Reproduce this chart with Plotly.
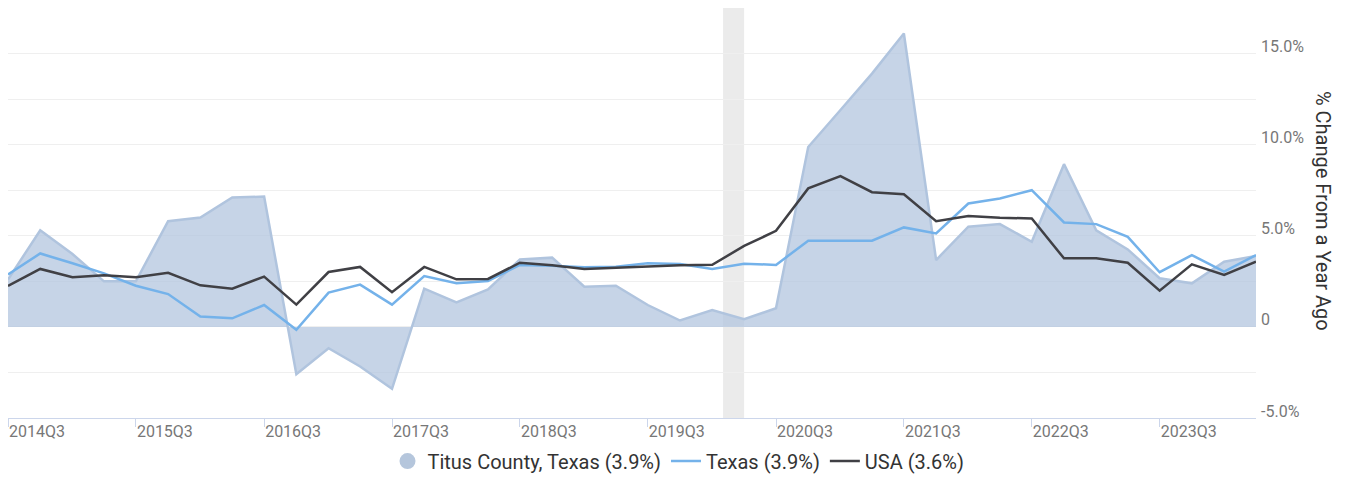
import pandas as pd
import plotly.graph_objects as go

quarters = [
    "2014Q3", "2014Q4", "2015Q1", "2015Q2", "2015Q3", "2015Q4", "2016Q1", "2016Q2",
    "2016Q3", "2016Q4", "2017Q1", "2017Q2", "2017Q3", "2017Q4", "2018Q1", "2018Q2",
    "2018Q3", "2018Q4", "2019Q1", "2019Q2", "2019Q3", "2019Q4", "2020Q1", "2020Q2",
    "2020Q3", "2020Q4", "2021Q1", "2021Q2", "2021Q3", "2021Q4", "2022Q1", "2022Q2",
    "2022Q3", "2022Q4", "2023Q1", "2023Q2", "2023Q3", "2023Q4", "2024Q1", "2024Q2",
]

titus = [
    2.6, 5.3, 4.0, 2.5, 2.5, 5.8, 6.0, 7.1,
    7.15, -2.6, -1.17, -2.17, -3.4, 2.1, 1.35, 2.06,
    3.7, 3.8, 2.2, 2.26, 1.2, 0.35, 0.93, 0.42,
    1.02, 9.87, 11.9, 13.9, 16.1, 3.67, 5.5, 5.64,
    4.67, 8.93, 5.3, 4.25, 2.67, 2.39, 3.58, 3.89,
]

texas = [
    2.88, 4.03, 3.49, 2.94, 2.26, 1.8, 0.57, 0.47,
    1.2, -0.16, 1.88, 2.32, 1.22, 2.79, 2.39, 2.52,
    3.4, 3.36, 3.27, 3.3, 3.49, 3.45, 3.18, 3.47,
    3.4, 4.73, 4.73, 4.73, 5.46, 5.13, 6.77, 7.05,
    7.5, 5.73, 5.64, 4.94, 3.0, 3.94, 3.03, 3.94,
]

usa = [
    2.25, 3.18, 2.72, 2.83, 2.72, 2.97, 2.28, 2.1,
    2.76, 1.22, 3.01, 3.29, 1.9, 3.29, 2.61, 2.63,
    3.52, 3.38, 3.18, 3.25, 3.3, 3.38, 3.41, 4.44,
    5.27, 7.6, 8.27, 7.39, 7.28, 5.8, 6.08, 5.99,
    5.95, 3.76, 3.76, 3.52, 1.99, 3.43, 2.85, 3.58,
]

tick_quarters = ["2014Q3", "2015Q3", "2016Q3", "2017Q3", "2018Q3",
                 "2019Q3", "2020Q3", "2021Q3", "2022Q3", "2023Q3"]

y_tick_vals = [-5, -2.5, 0, 2.5, 5, 7.5, 10, 12.5, 15, 17.5]
y_tick_text = ["-5.0%", "", "0", "", "5.0%", "", "10.0%", "", "15.0%", ""]

recession = ("2020-02-01", "2020-04-01")

legend_names = ["Titus County, Texas (3.9%)", "Texas (3.9%)", "USA (3.6%)"]


def q_to_date(q):
    return pd.Period(q, freq="Q").start_time


dates = [q_to_date(q) for q in quarters]
tick_dates = [q_to_date(q) for q in tick_quarters]

fig = go.Figure()

fig.add_trace(go.Scatter(
    x=dates, y=titus, mode="lines", fill="tozeroy",
    fillcolor="rgba(176,196,222,0.72)",
    line=dict(color="#b0c4de", width=2.5),
    showlegend=False, hoverinfo="skip",
))
fig.add_trace(go.Scatter(
    x=[None], y=[None], mode="markers", name=legend_names[0],
    marker=dict(symbol="circle", size=21, color="#b5c6dc"),
))
fig.add_trace(go.Scatter(
    x=dates, y=texas, mode="lines", name=legend_names[1],
    line=dict(color="#74b2ea", width=2.5),
))
fig.add_trace(go.Scatter(
    x=dates, y=usa, mode="lines", name=legend_names[2],
    line=dict(color="#404045", width=2.5),
))

fig.add_vrect(x0=recession[0], x1=recession[1], fillcolor="#ebebeb",
              line_width=0, layer="below")

fig.update_layout(
    width=1341, height=470,
    margin=dict(l=0, r=93, t=0, b=60, autoexpand=False),
    paper_bgcolor="white", plot_bgcolor="white",
    font=dict(family="Roboto, Arial, sans-serif", color="#333333"),
    legend=dict(
        orientation="h", xref="container", yref="container",
        x=0.5, xanchor="center", y=0.036, yanchor="middle",
        font=dict(size=20, color="#333333"),
        bgcolor="rgba(0,0,0,0)",
        itemwidth=30, tracegroupgap=0,
    ),
    xaxis=dict(
        type="date",
        range=[dates[0], dates[-1]],
        tickvals=tick_dates, ticktext=tick_quarters,
        tickfont=dict(size=16, color="#777777"),
        ticklabelshift=29, ticklabelstandoff=-9,
        ticklabeloverflow="allow",
        showgrid=False, zeroline=False,
        showline=True, linecolor="#ccd6eb", linewidth=1,
        ticks="outside", ticklen=8, tickcolor="#ccd6eb",
    ),
    yaxis=dict(
        side="right",
        range=[-5, 17.5],
        tickvals=y_tick_vals, ticktext=y_tick_text,
        tickfont=dict(size=16, color="#777777"),
        ticklabelshift=-7, ticklabelstandoff=4,
        ticklabeloverflow="allow",
        showgrid=True, gridcolor="#efefef", gridwidth=1,
        zeroline=False, showline=False, ticks="",
    ),
    annotations=[dict(
        text="% Change From a Year Ago", textangle=90,
        xref="paper", yref="paper", x=1, xshift=67, y=0.505,
        xanchor="center", yanchor="middle", showarrow=False,
        font=dict(size=20, color="#333333"),
    )],
)

fig.write_html("out.html")
